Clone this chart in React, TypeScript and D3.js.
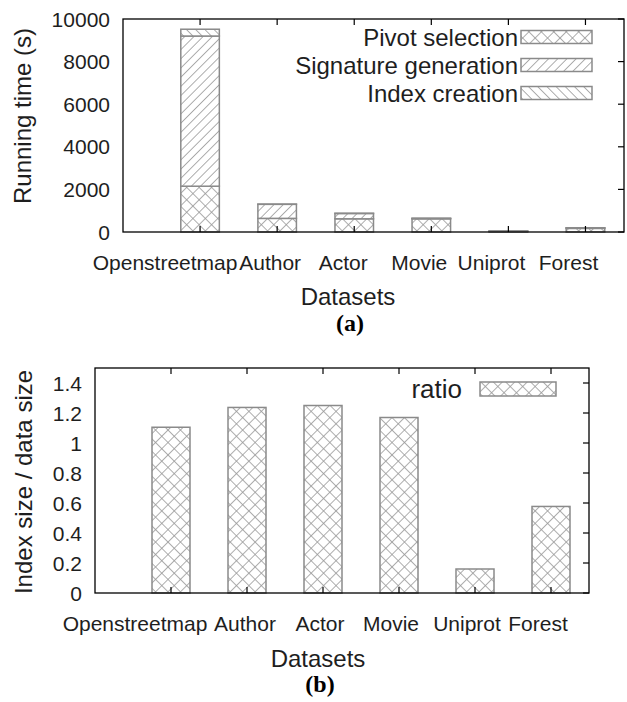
import React, { useEffect, useRef } from 'react';
import * as d3 from 'd3';

// datasets on the x axis (both panels)
const categories = ['Openstreetmap', 'Author', 'Actor', 'Movie', 'Uniprot', 'Forest'];

// panel (a): running time in seconds, stacked
const seriesNames = ['Pivot selection', 'Signature generation', 'Index creation'];
const pivotSelection = [2150, 640, 620, 620, 30, 170];
const signatureGeneration = [7050, 660, 250, 20, 10, 25];
const indexCreation = [320, 10, 10, 5, 5, 5];
const timeTicks = [0, 2000, 4000, 6000, 8000, 10000];

// panel (b): index size / data size
const ratioValues = [1.105, 1.237, 1.25, 1.17, 0.16, 0.577];
const ratioTicks = [0, 0.2, 0.4, 0.6, 0.8, 1, 1.2, 1.4];

// gnuplot-ish label placement nudges (px), not data
const nudgeA = [-35, -7, -11, -12, -17, -17];
const nudgeB = [-36, -2, -3, -8, -8, -13];

const W = 627;
const H = 702;
const FONT = '"Liberation Sans", Arial, Helvetica, sans-serif';
const INK = '#1e1e1e';
const BAR_STROKE = '#8a8a8a';
const HATCH = '#9a9a9a';

const App = () => {
  const svgRef = useRef<SVGSVGElement | null>(null);

  useEffect(() => {
    if (!svgRef.current) return;
    const svg = d3.select(svgRef.current);
    svg.selectAll('*').remove();

    // hatch patterns
    const defs = svg.append('defs');
    const addPattern = (id: string, size: number, angle: number, cross: boolean) => {
      const p = defs.append('pattern')
        .attr('id', id)
        .attr('patternUnits', 'userSpaceOnUse')
        .attr('width', size)
        .attr('height', size)
        .attr('patternTransform', `rotate(${angle})`);
      p.append('rect').attr('width', size).attr('height', size).attr('fill', '#fff');
      p.append('line')
        .attr('x1', 0).attr('y1', 0).attr('x2', 0).attr('y2', size)
        .attr('stroke', HATCH).attr('stroke-width', 1.6);
      if (cross) {
        p.append('line')
          .attr('x1', 0).attr('y1', 0).attr('x2', size).attr('y2', 0)
          .attr('stroke', HATCH).attr('stroke-width', 1.6);
      }
    };
    addPattern('cross', 8.8, 45, true);
    addPattern('fwd', 6.5, 45, false);
    addPattern('back', 6.5, -45, false);
    const fills = ['url(#cross)', 'url(#fwd)', 'url(#back)'];

    const positions = categories.map((_, i) => i + 1);

    const drawFrame = (
      x: d3.ScaleLinear<number, number>,
      y: d3.ScaleLinear<number, number>,
      yTicks: number[],
      fmt: (v: number) => string,
      nudge: number[],
      labelGap: number,
    ) => {
      const [x0, x1] = x.range();
      const [y0, y1] = y.range();
      const g = svg.append('g');
      // inward ticks: top/bottom at categories, right side at y ticks
      positions.forEach(p => {
        g.append('line').attr('x1', x(p)).attr('x2', x(p)).attr('y1', y0).attr('y2', y0 - 6)
          .attr('stroke', '#000').attr('stroke-width', 1.2);
        g.append('line').attr('x1', x(p)).attr('x2', x(p)).attr('y1', y1).attr('y2', y1 + 6)
          .attr('stroke', '#000').attr('stroke-width', 1.2);
      });
      yTicks.forEach(t => {
        g.append('line').attr('x1', x1).attr('x2', x1 - 6).attr('y1', y(t)).attr('y2', y(t))
          .attr('stroke', '#000').attr('stroke-width', 1.2);
        g.append('text')
          .attr('x', x0 - 13)
          .attr('y', y(t))
          .attr('dy', '0.36em')
          .attr('text-anchor', 'end')
          .style('font-family', FONT)
          .style('font-size', '21px')
          .attr('fill', INK)
          .text(fmt(t));
      });
      g.append('rect')
        .attr('x', x0).attr('y', y1)
        .attr('width', x1 - x0).attr('height', y0 - y1)
        .attr('fill', 'none').attr('stroke', '#000').attr('stroke-width', 1.3);
      // category labels
      categories.forEach((c, i) => {
        g.append('text')
          .attr('x', x(positions[i]) + nudge[i])
          .attr('y', y0 + labelGap)
          .attr('text-anchor', 'middle')
          .style('font-family', FONT)
          .style('font-size', '21px')
          .attr('fill', INK)
          .text(c);
      });
    };

    // ---------- panel (a) ----------
    const xa = d3.scaleLinear().domain([0, 6.5]).range([123, 624]);
    const ya = d3.scaleLinear().domain([0, 10000]).range([232, 19]);
    const rows = categories.map((c, i) => ({
      category: c,
      pos: positions[i],
      [seriesNames[0]]: pivotSelection[i],
      [seriesNames[1]]: signatureGeneration[i],
      [seriesNames[2]]: indexCreation[i],
    }));
    const stacked = d3.stack<any>().keys(seriesNames)(rows);
    const barW = xa(0.5) - xa(0);

    stacked.forEach((layer, li) => {
      svg.append('g').selectAll('rect')
        .data(layer)
        .join('rect')
        .attr('x', d => xa(d.data.pos) - barW / 2)
        .attr('y', d => ya(d[1]))
        .attr('width', barW)
        .attr('height', d => ya(d[0]) - ya(d[1]))
        .attr('fill', fills[li])
        .attr('stroke', BAR_STROKE)
        .attr('stroke-width', 1.5);
    });

    drawFrame(xa, ya, timeTicks, d3.format('d'), nudgeA, 38);

    // legend (a)
    const legA = svg.append('g');
    seriesNames.forEach((name, i) => {
      const cy = 37 + i * 28;
      legA.append('text')
        .attr('x', 518)
        .attr('y', cy)
        .attr('dy', '0.36em')
        .attr('text-anchor', 'end')
        .style('font-family', FONT)
        .style('font-size', '24px')
        .attr('fill', INK)
        .text(name);
      legA.append('rect')
        .attr('x', 521).attr('y', cy - 6.5)
        .attr('width', 71).attr('height', 13)
        .attr('fill', fills[i])
        .attr('stroke', BAR_STROKE)
        .attr('stroke-width', 1.5);
    });

    svg.append('text')
      .attr('transform', `translate(31,116) rotate(-90)`)
      .attr('text-anchor', 'middle')
      .style('font-family', FONT)
      .style('font-size', '24px')
      .attr('fill', INK)
      .text('Running time (s)');
    svg.append('text')
      .attr('x', 348).attr('y', 305)
      .attr('text-anchor', 'middle')
      .style('font-family', FONT)
      .style('font-size', '24px')
      .attr('fill', INK)
      .text('Datasets');
    svg.append('text')
      .attr('x', 350).attr('y', 331)
      .attr('text-anchor', 'middle')
      .style('font-family', '"Liberation Serif", "Times New Roman", serif')
      .style('font-weight', 'bold')
      .style('font-size', '24px')
      .text('(a)');

    // ---------- panel (b) ----------
    const xb = d3.scaleLinear().domain([0, 6.5]).range([95, 589]);
    const yb = d3.scaleLinear().domain([0, 1.5]).range([593, 368]);
    const barWb = xb(0.5) - xb(0);

    svg.append('g').selectAll('rect')
      .data(ratioValues)
      .join('rect')
      .attr('x', (_, i) => xb(positions[i]) - barWb / 2)
      .attr('y', d => yb(d))
      .attr('width', barWb)
      .attr('height', d => yb(0) - yb(d))
      .attr('fill', 'url(#cross)')
      .attr('stroke', BAR_STROKE)
      .attr('stroke-width', 1.5);

    drawFrame(xb, yb, ratioTicks, d => String(+d.toFixed(1)), nudgeB, 38);

    svg.append('text')
      .attr('x', 462).attr('y', 389)
      .attr('dy', '0.36em')
      .attr('text-anchor', 'end')
      .style('font-family', FONT)
      .style('font-size', '26px')
      .attr('fill', INK)
      .text('ratio');
    svg.append('rect')
      .attr('x', 480).attr('y', 382)
      .attr('width', 76).attr('height', 14)
      .attr('fill', 'url(#cross)')
      .attr('stroke', BAR_STROKE)
      .attr('stroke-width', 1.5);

    svg.append('text')
      .attr('transform', `translate(32,482) rotate(-90)`)
      .attr('text-anchor', 'middle')
      .style('font-family', FONT)
      .style('font-size', '24px')
      .attr('fill', INK)
      .text('Index size / data size');
    svg.append('text')
      .attr('x', 318).attr('y', 667)
      .attr('text-anchor', 'middle')
      .style('font-family', FONT)
      .style('font-size', '24px')
      .attr('fill', INK)
      .text('Datasets');
    svg.append('text')
      .attr('x', 320).attr('y', 692)
      .attr('text-anchor', 'middle')
      .style('font-family', '"Liberation Serif", "Times New Roman", serif')
      .style('font-weight', 'bold')
      .style('font-size', '24px')
      .text('(b)');
  }, []);

  return (
    <svg
      ref={svgRef}
      width={W}
      height={H}
      style={{ position: 'absolute', left: 0, top: 0, background: '#fff', display: 'block' }}
    />
  );
};

export default App;
